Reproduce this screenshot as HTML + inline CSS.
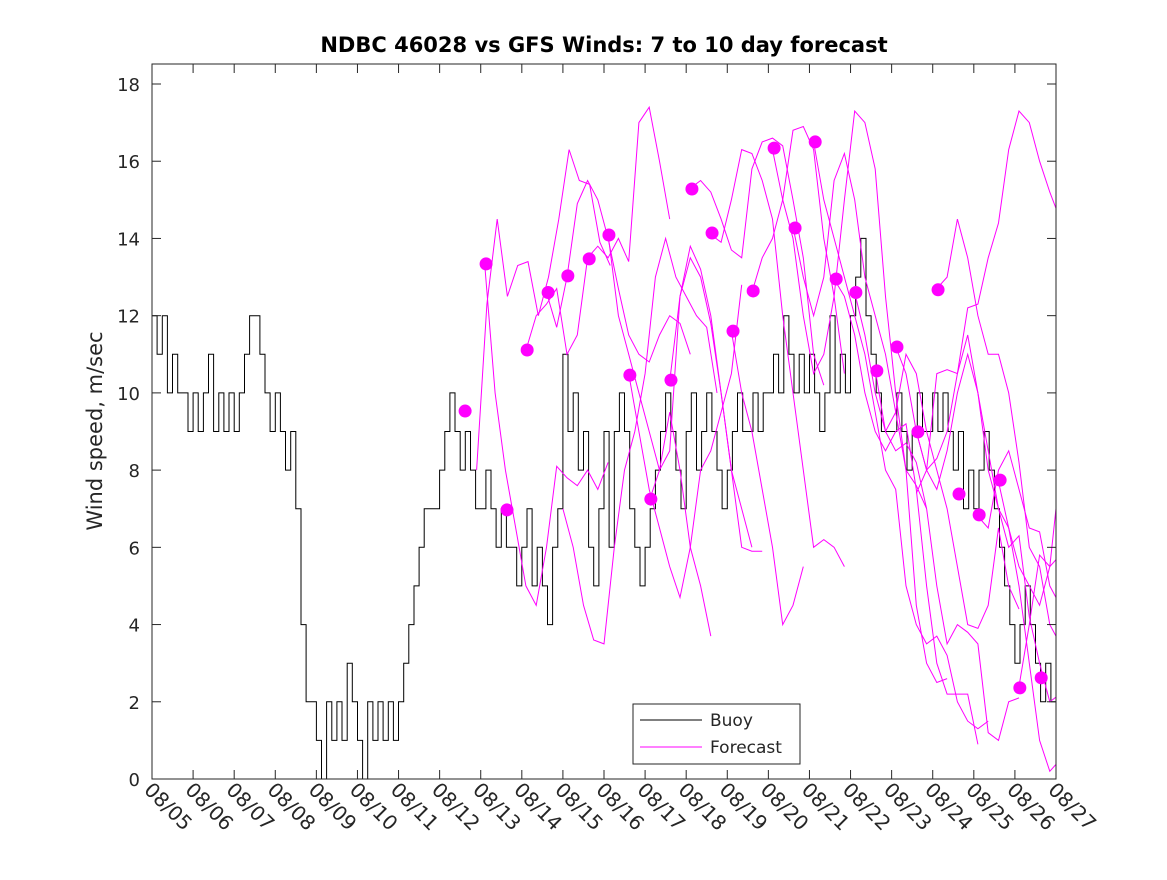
<!DOCTYPE html>
<html><head><meta charset="utf-8"><style>
body{margin:0;background:#fff}
svg text{font-family:"DejaVu Sans","Liberation Sans",sans-serif;fill:#262626}
</style></head><body>
<svg id="c" width="1167" height="875" viewBox="0 0 1167 875">
<rect x="0" y="0" width="1167" height="875" fill="#fff"/>
<defs><clipPath id="clip"><rect x="152" y="64" width="904" height="715"/></clipPath></defs>
<text x="604" y="52" text-anchor="middle" font-size="21" font-weight="bold" style="fill:#000">NDBC 46028 vs GFS Winds: 7 to 10 day forecast</text>
<text transform="translate(102,431) rotate(-90)" text-anchor="middle" font-size="21">Wind speed, m/sec</text>
<g id="plot" clip-path="url(#clip)"></g>
<g id="axes"></g>
<g>
<rect x="633" y="704" width="167" height="60" fill="#fff" stroke="#262626" stroke-width="1"/>
<line x1="640" y1="720" x2="702" y2="720" stroke="#000" stroke-width="1"/>
<text x="710" y="726" font-size="17">Buoy</text>
<line x1="640" y1="747" x2="702" y2="747" stroke="#ff00ff" stroke-width="1"/>
<text x="710" y="753" font-size="17">Forecast</text>
</g>
</svg>
<script>
const xTickLabels=["08/05","08/06","08/07","08/08","08/09","08/10","08/11","08/12","08/13","08/14","08/15","08/16","08/17","08/18","08/19","08/20","08/21","08/22","08/23","08/24","08/25","08/26","08/27"];
const yTicks=[0,2,4,6,8,10,12,14,16,18];
const buoy=[12,11,12,10,11,10,10,9, 10,9,10,11,9,10,9,10, 9,10,11,12,12,11,10,9, 10,9,8,9,7,4,2,2, 1,0,2,1,2,1,3,2, 1,0,2,1,2,1,2,1, 2,3,4,5,6,7,7,7, 8,9,10,9,8,9,8,7, 7,8,7,6,7,6,6,5, 6,7,5,6,5,4,6,7, 11,9,10,8,9,6,5,7, 9,6,9,10,9,7,6,5, 6,7,8,9,10,9,8,7, 9,10,8,9,10,9,8,7, 8,9,10,9,9,10,9,10, 10,11,10,12,11,10,11,10, 11,10,9,10,12,10,11,10, 12,13,14,12,11,10,9,9, 9,10,9,8,9,10,9,9, 10,9,10,9,8,9,7,8, 7,8,9,8,7,6,5,4, 3,4,5,4,3,2,3,2];
const forecastStarts=[7.9,8.1,9.1,9.6,10,11.1,11.6,12.1,12.6,13.1,13.6,14.1,14.6,15.1,15.6,16.1,16.6,17.1,17.6,18.1,18.6,19.1,18.6,20.1,20.6,21.1];
const forecastValues=[
[8,12.3,14.5,12.5,13.3,13.4,12,13,14.5,16.3,15.5,15.4,13.9,13.3],
[13.3,10,8,6.5,5,4.5,6,8.1,7.8,7.6,8,7.5,8.2],
[11.1,12,12.3,12.7,11,11.5,13.5,13.8,13.5,14,13.4,17,17.4,16,14.5],
[12.6,11.7,13,14.9,15.5,15,14,12.7,11.5,11,10.8,11.5,12,11.8,11],
[7,6,4.5,3.6,3.5,6,8,9,10.5,13,14,13,12.5,12,11.7,10],
[14.1,12,11,10,9,8,8.5,12.5,13.8,13.2,12,10,8,7,6],
[10.5,9,7.5,6.5,5.5,4.7,6,8,8.5,9.5,10.5,12.8],
[7.2,8,9.5,8,6,5,3.7],
[10.3,12.5,13.5,13,11.8,10,8,6,5.9,5.9],
[15.3,15.5,15.2,14.5,13.7,13.5,15.8,16.5,16.6,16.4,15,13.5,11,10.2],
[14.1,13.9,15,16.3,16.2,15.5,14.5,12,10,8,6,6.2,6,5.5],
[11.6,10,9,7.5,6,4,4.5,5.5],
[12.6,13.5,14,15,16.8,16.9,16.3,14,12.5,10.5],
[16.3,15,14,12,10.5,11,12.5,15,17.3,17,15.8,12.5,10,8,7.6,7],
[14.3,13,12,13,15.5,16.2,15,13,12,11,9.5,8,4.5,3,2.5,2.6],
[16.5,15,14,13,12,11,9.5,8,7.5,5,4,3.5,3.7,3.2,2,1.5,1.3,1.5],
[12.95,12.5,11.5,10,9,8.5,9,9.2,7.5,5,3,2.2,2.2,2.2,0.9],
[12.6,11.5,10,9,8.5,8.7,8.2,7,5,3.5,4,3.8,3.5,1.2,1,2,2.1],
[10.6,9,9.5,11,10.5,9,8,7,5.5,4,3.9,4.5,6.5,5,4.4],
[11.2,10.5,9,8,8.3,9,10.5,11.5,10,8,7,6.5,5,3,1,0.2,0.5,1.5],
[9,8,7.5,8.5,10,11,10,8.5,7,6,6.3,4.2,3,2,2.2,1.2,0.8],
[12.7,13,14.5,13.5,12,11,11,10,8.2,6,5.5,4,3.5,1.2,0.9,0.5],
[7.4,8,10.5,10.6,10.5,12.2,12.3,13.5,14.4,16.3,17.3,17,16,15.2,14.5,14.7,16.2],
[6.8,6.5,8,8.5,7.5,6.5,6.4,5,4.5,6,11.7,11,10,9.8,11.7],
[7.7,6.5,5.5,5,4.5,5.5,8,13.3,2,1.6,1.6,1.8,1.4,1.5],
[2.4,4,5.8,5.5,5.8,5.5]];
const markerDays=[7.62,8.13,8.64,9.13,9.64,10.12,10.64,11.12,11.63,12.14,12.63,13.14,13.63,14.14,14.63,15.14,15.65,16.14,16.65,17.13,17.64,18.13,18.64,19.13,19.64,20.13,20.64,21.12,21.64];
const markerValues=[9.53,13.34,6.97,11.11,12.6,13.03,13.47,14.09,10.46,7.25,10.33,15.28,14.14,11.6,12.64,16.34,14.27,16.5,12.95,12.6,10.57,11.19,8.99,12.67,7.38,6.84,7.74,2.36,2.62];

const L=152,R=1056,T=64,B=779;
const X=d=>L+d*(R-L)/22;
const Y=v=>B-v*(B-84)/18;
const NS="http://www.w3.org/2000/svg";
function mk(tag,attrs,parent){const e=document.createElementNS(NS,tag);for(const k in attrs)e.setAttribute(k,attrs[k]);parent.appendChild(e);return e;}
const plot=document.getElementById('plot'),axes=document.getElementById('axes');

const step=22/buoy.length;
let d="";
buoy.forEach((v,i)=>{const x0=X(i*step),x1=X((i+1)*step),y=Y(v);d+=(i===0?"M":"L")+x0.toFixed(1)+","+y.toFixed(1)+"L"+x1.toFixed(1)+","+y.toFixed(1);});
const bl=mk('path',{d:d,fill:"none",stroke:"#000","stroke-width":1},plot);



forecastValues.forEach((arr,k)=>{
  const pts=arr.map((v,i)=>X(forecastStarts[k]+i*0.25).toFixed(1)+","+Y(v).toFixed(1)).join(" ");
  const p=mk('polyline',{points:pts,fill:"none",stroke:"#ff00ff","stroke-width":1},plot);
  
  
});
markerDays.forEach((dd,i)=>{
  const c=mk('circle',{cx:X(dd),cy:Y(markerValues[i]),r:6.5,fill:"#ff00ff"},plot);
  
  
});

mk('rect',{x:L,y:T,width:R-L,height:B-T,fill:"none",stroke:"#262626","stroke-width":1},axes);
yTicks.forEach(v=>{
  const y=Y(v);
  mk('line',{x1:L,y1:y,x2:L+9,y2:y,stroke:"#262626"},axes);
  mk('line',{x1:R,y1:y,x2:R-9,y2:y,stroke:"#262626"},axes);
  const t=mk('text',{x:L-12,y:y+7,"text-anchor":"end","font-size":18},axes);
  t.textContent=v;
  
  
});
xTickLabels.forEach((lab,i)=>{
  const x=X(i);
  mk('line',{x1:x,y1:B,x2:x,y2:B-9,stroke:"#262626"},axes);
  mk('line',{x1:x,y1:T,x2:x,y2:T+9,stroke:"#262626"},axes);
  const t=mk('text',{transform:"translate("+(x-9)+","+(B+12)+") rotate(45)","text-anchor":"start","font-size":20},axes);
  t.textContent=lab;
  
  
});
</script>
</body></html>
